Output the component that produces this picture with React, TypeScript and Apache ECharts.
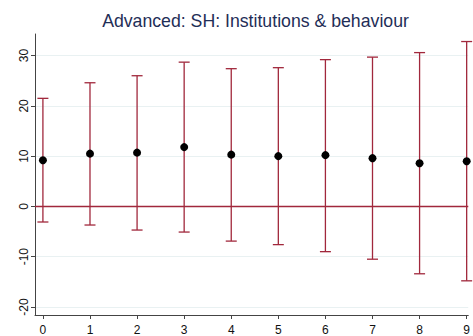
import React, { useEffect, useRef } from "react";
import * as echarts from "echarts";

const categories = [0, 1, 2, 3, 4, 5, 6, 7, 8, 9];
const estimates = [9.2, 10.5, 10.7, 11.8, 10.3, 10.0, 10.2, 9.6, 8.6, 9.0];
const upper = [21.5, 24.6, 26.0, 28.7, 27.4, 27.6, 29.2, 29.7, 30.6, 32.8];
const lower = [-3.1, -3.7, -4.7, -5.1, -6.9, -7.6, -9.0, -10.5, -13.4, -14.8];
const yTicks = [-20, -10, 0, 10, 20, 30];
const titleText = "Advanced: SH: Institutions & behaviour";

export default function App() {
  const ref = useRef<HTMLDivElement>(null);
  useEffect(() => {
    const chart = echarts.init(ref.current!, null, { renderer: "svg" });
    const barColor = "#a1283c";
    const ci = categories.map((c, i) => [c, lower[i], upper[i]]);
    chart.setOption({
      animation: false,
      backgroundColor: "#ffffff",
      textStyle: { fontFamily: "Liberation Sans, Arial, sans-serif" },
      graphic: [
        {
          type: "text",
          x: 255.5,
          y: 21,
          style: {
            text: titleText,
            fontSize: 17.7,
            fontFamily: "Liberation Sans, Arial, sans-serif",
            fill: "#1f2e57",
            align: "center",
            verticalAlign: "middle",
          },
        },
      ],
      grid: { left: 35, right: 0, top: 34, bottom: 19, containLabel: false },
      xAxis: {
        type: "value",
        min: -0.168,
        max: 9.034,
        axisLine: { onZero: false, lineStyle: { color: "#444", width: 1 } },
        axisTick: { length: 4, lineStyle: { color: "#444" }, customValues: categories },
        axisLabel: {
          customValues: categories,
          fontSize: 12,
          color: "#111",
          margin: 9,
        },
        splitLine: { show: false },
      },
      yAxis: {
        type: "value",
        min: -21.6,
        max: 34.3,
        axisLine: { show: true, onZero: false, lineStyle: { color: "#444", width: 1 } },
        axisTick: { show: true, length: 4, lineStyle: { color: "#444" }, customValues: yTicks },
        axisLabel: {
          customValues: yTicks,
          rotate: 90,
          fontSize: 12,
          color: "#111",
          margin: 5,
        },
        splitLine: { show: true, lineStyle: { color: "#e9f1f2", width: 1 } },
      },
      series: [
        {
          type: "custom",
          data: ci,
          clip: false,
          encode: { x: 0, y: [1, 2] },
          renderItem: (params: any, api: any) => {
            const x = api.value(0);
            const lo = api.coord([x, api.value(1)]);
            const hi = api.coord([x, api.value(2)]);
            const hw = 5.5;
            const style = { stroke: barColor, lineWidth: 1.3, fill: "none" };
            return {
              type: "group",
              children: [
                { type: "line", shape: { x1: lo[0], y1: lo[1], x2: hi[0], y2: hi[1] }, style },
                { type: "line", shape: { x1: lo[0] - hw, y1: lo[1], x2: lo[0] + hw, y2: lo[1] }, style },
                { type: "line", shape: { x1: hi[0] - hw, y1: hi[1], x2: hi[0] + hw, y2: hi[1] }, style },
              ],
            };
          },
          z: 3,
        },
        {
          type: "scatter",
          data: categories.map((c, i) => [c, estimates[i]]),
          symbol: "circle",
          symbolSize: 8,
          itemStyle: { color: "#000", opacity: 1 },
          clip: false,
          z: 5,
          markLine: {
            silent: true,
            symbol: "none",
            label: { show: false },
            lineStyle: { color: barColor, width: 1.4, type: "solid" },
            data: [{ yAxis: 0 }],
          },
        },
      ],
    });
    return () => chart.dispose();
  }, []);
  return (
    <div
      ref={ref}
      style={{ position: "fixed", left: 0, top: 0, width: 473, height: 336 }}
    />
  );
}
